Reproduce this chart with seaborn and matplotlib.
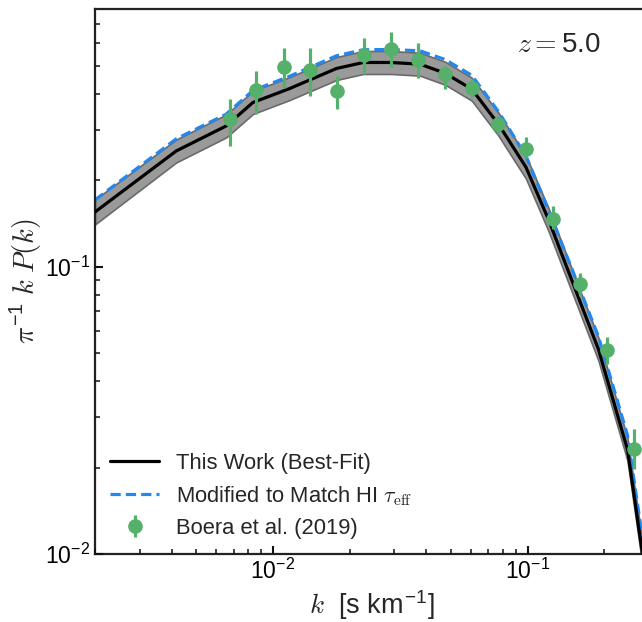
import numpy as np
import pandas as pd
import matplotlib
matplotlib.use("Agg")
import matplotlib.pyplot as plt
from matplotlib.ticker import LogLocator, NullFormatter
import seaborn as sns

# ---- model (best fit) ----
k_model = [0.00200, 0.00417, 0.00655, 0.00834, 0.01163, 0.01776, 0.02261, 0.02906,
           0.03780, 0.04742, 0.06041, 0.07686, 0.09856, 0.1207, 0.1513, 0.1898,
           0.2469, 0.2829]
p_best = [0.1552, 0.2532, 0.3094, 0.3734, 0.4176, 0.4904, 0.5146, 0.5146,
          0.5077, 0.4723, 0.4154, 0.3136, 0.2222, 0.1464, 0.0869, 0.0516,
          0.0231, 0.00996]
p_lo = [0.1405, 0.2309, 0.2822, 0.3405, 0.3809, 0.4472, 0.4693, 0.4693,
        0.4630, 0.4307, 0.3788, 0.2860, 0.2026, 0.1335, 0.0793, 0.0471,
        0.0211, 0.00908]
p_hi = [0.1715, 0.2775, 0.3391, 0.4092, 0.4577, 0.5375, 0.5640, 0.5640,
        0.5564, 0.5176, 0.4553, 0.3437, 0.2435, 0.1605, 0.0952, 0.0566,
        0.0253, 0.01092]
p_mod = [0.171, 0.279, 0.340, 0.411, 0.461, 0.543, 0.570, 0.571,
         0.565, 0.527, 0.464, 0.347, 0.243, 0.158, 0.0955, 0.0572,
         0.0259, 0.0113]

# ---- Boera et al. (2019) ----
k_obs = [0.006754, 0.008603, 0.01102, 0.01404, 0.01786, 0.02276, 0.02906, 0.03722,
         0.04742, 0.06041, 0.07686, 0.09856, 0.1259, 0.1602, 0.2054, 0.2615]
p_obs = [0.3267, 0.412, 0.498, 0.483, 0.410, 0.547, 0.5727, 0.5256,
         0.4697, 0.421, 0.3136, 0.2582, 0.1464, 0.0874, 0.0512, 0.02326]
p_obs_lo = [0.2636, 0.340, 0.421, 0.3937, 0.3538, 0.4685, 0.4944, 0.4562,
            0.4154, 0.3897, 0.2894, 0.2401, 0.1351, 0.0791, 0.0457, 0.0197]
p_obs_hi = [0.3835, 0.481, 0.577, 0.577, 0.462, 0.625, 0.6576, 0.6008,
            0.5007, 0.450, 0.335, 0.2842, 0.1628, 0.0954, 0.0571, 0.02715]

sns.set_theme(style="ticks")
plt.rcParams.update({
    'font.family': ['Liberation Sans', 'DejaVu Sans'],
    'mathtext.fontset': 'cm',
    'axes.unicode_minus': False,
    'xtick.labelsize': 16.5, 'ytick.labelsize': 16.5,
    'xtick.labelcolor': 'black', 'ytick.labelcolor': 'black',
    'axes.axisbelow': False,
})

fig = plt.figure(figsize=(6.42, 6.22), dpi=100)
ax = fig.add_axes([0.148, 0.1093, 0.863, 0.8762])

df_model = pd.DataFrame({"k": k_model, "best": p_best, "mod": p_mod})

ax.fill_between(k_model, p_lo, p_hi, facecolor="#9a9a9a", edgecolor="#6a6a6a",
                linewidth=1.2, zorder=1)
sns.lineplot(data=df_model, x="k", y="best", ax=ax, color="black", lw=2.3,
             label="This Work (Best-Fit)", zorder=3)
sns.lineplot(data=df_model, x="k", y="mod", ax=ax, color="#2288ee", lw=2.3,
             dashes=(3.2, 1.6), label=r"Modified to Match HI $\tau_{\rm eff}$", zorder=2)

yerr = [np.array(p_obs) - np.array(p_obs_lo), np.array(p_obs_hi) - np.array(p_obs)]
ax.errorbar(k_obs, p_obs, yerr=yerr, fmt="o", color="#55b06a", ms=9.5, elinewidth=2.3,
            capsize=0, label="Boera et al. (2019)", zorder=4)

ax.set_xscale("log")
ax.set_yscale("log")
ax.set_xlim(0.002, 0.3)
ax.set_ylim(0.01, 0.79)

for axis in (ax.xaxis, ax.yaxis):
    axis.set_major_locator(LogLocator(base=10.0, numticks=10))
    axis.set_minor_locator(LogLocator(base=10.0, subs=np.arange(2, 10), numticks=20))
    axis.set_minor_formatter(NullFormatter())

ax.set_xlabel(r"$k$  [s km$^{\mathdefault{-1}}$]", fontsize=19.5, labelpad=3)
ax.set_ylabel(r"$\pi^{\mathdefault{-1}}\;k\;P(k)$", fontsize=20.5, labelpad=0)

ax.tick_params(axis="both", which="both", direction="in", bottom=True, left=True,
               top=False, right=False, color="#111111", labelcolor="black")
ax.tick_params(which="major", length=6, width=1.5)
ax.tick_params(which="minor", length=3.5, width=1.1)
for s in ax.spines.values():
    s.set_linewidth(1.6)
    s.set_color("#222222")

ax.text(0.912, 0.934, r"$z=$5.0", transform=ax.transAxes, ha="right", va="center",
        fontsize=20)

leg = ax.legend(loc="lower left", frameon=False, fontsize=15.8, handlelength=2.2,
                handletextpad=0.8, labelspacing=0.45, borderaxespad=0.3)

fig.savefig("out.png", dpi=100)
